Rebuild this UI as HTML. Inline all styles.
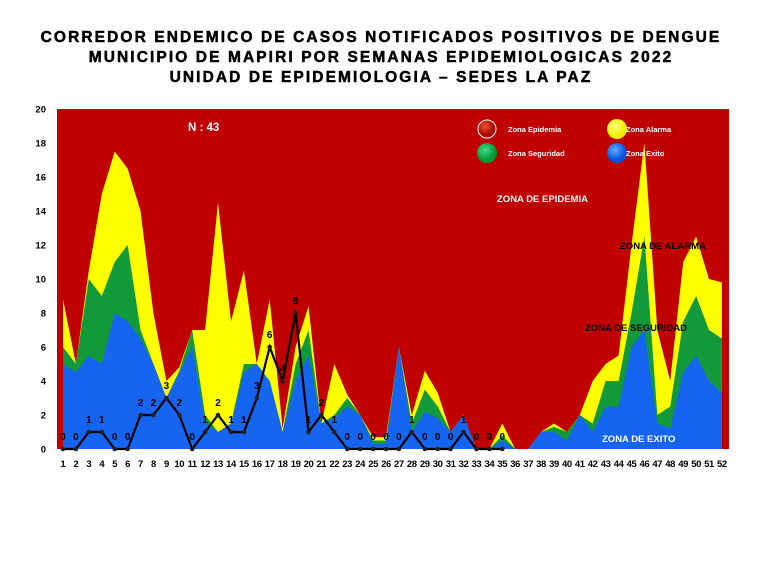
<!DOCTYPE html>
<html><head><meta charset="utf-8"><style>
body{margin:0;background:#fff;width:768px;height:576px;overflow:hidden}
svg{position:absolute;left:0;top:0}
text{font-family:"Liberation Sans",sans-serif;font-weight:bold}
</style></head><body>
<svg id="s" width="768" height="576" xmlns="http://www.w3.org/2000/svg">
<defs>
<radialGradient id="gr" cx="40%" cy="35%"><stop offset="0" stop-color="#e53"/><stop offset="1" stop-color="#a00"/></radialGradient>
<radialGradient id="gy" cx="40%" cy="35%"><stop offset="0" stop-color="#ffff80"/><stop offset="1" stop-color="#ee0"/></radialGradient>
<radialGradient id="gg" cx="40%" cy="35%"><stop offset="0" stop-color="#4d8"/><stop offset="1" stop-color="#093"/></radialGradient>
<radialGradient id="gb" cx="40%" cy="35%"><stop offset="0" stop-color="#6af"/><stop offset="1" stop-color="#05d"/></radialGradient>
</defs>
<g text-anchor="middle" font-size="15.5" letter-spacing="2.1" stroke="#000" stroke-width="0.5">
<text x="381" y="42">CORREDOR ENDEMICO DE CASOS NOTIFICADOS POSITIVOS DE DENGUE</text>
<text x="381" y="62">MUNICIPIO DE MAPIRI POR SEMANAS EPIDEMIOLOGICAS 2022</text>
<text x="381" y="82">UNIDAD DE EPIDEMIOLOGIA – SEDES LA PAZ</text>
</g>
<rect x="57" y="109" width="672" height="340" fill="#c00000"/>
<g id="areas"></g>
<g id="axes"></g>
<text x="188" y="131" fill="#fff" font-size="11.5">N : 43</text>
<circle cx="487" cy="129" r="9" fill="url(#gr)" stroke="#fff" stroke-width="1"/>
<circle cx="617" cy="129" r="10" fill="url(#gy)"/>
<circle cx="487" cy="153" r="10" fill="url(#gg)"/>
<circle cx="617" cy="153" r="10" fill="url(#gb)"/>
<g font-size="7.5" fill="#fff">
<text x="508" y="132">Zona Epidemia</text><text x="626" y="132">Zona Alarma</text>
<text x="508" y="156">Zona Seguridad</text><text x="626" y="156">Zona Exito</text>
</g>
<text x="497" y="202" fill="#fff" font-size="9.5">ZONA DE EPIDEMIA</text>
<text x="620" y="249" fill="#000" font-size="9.5">ZONA DE ALARMA</text>
<text x="585" y="331" fill="#000" font-size="9.5">ZONA DE  SEGURIDAD</text>
<text x="602" y="442" fill="#fff" font-size="9.5">ZONA DE  EXITO</text>
<g id="line"></g>
</svg>
<script>
var B=[5,4.5,5.5,5,8,7.5,6.5,5,3,4.5,6,1.5,1,1.5,4.5,5,4,1,4,5.5,1.5,1.8,2.5,2,.3,.3,6,1,2.2,1.8,1,2,0,0,.5,0,0,1,1,.5,2,1,2.5,2.5,6,7,1.5,1.2,4.5,5.5,4,3.3];
var G=[6,5,10,9,11,12,7,5,3,4.6,7,2,1,1.5,5,5,4,1,5,7,1.5,2,3,2,.5,.5,6,1.5,3.5,2.5,1,2,0,0,.8,0,0,1,1.3,1,2,1.5,4,4,8,12.5,2,2.5,7.5,9,7,6.5];
var Y=[8.8,5,10.5,15,17.5,16.5,14,8,4,4.8,7,7,14.5,7.5,10.5,5,8.8,1.2,6,8.4,1.5,5,3.2,2,.7,.7,6,2,4.6,3.3,1,2,0,0,1.5,0,0,1,1.5,1,2,4,5,5.5,12,18,7,4,11,12.5,10,9.8];
var C=[0,0,1,1,0,0,2,2,3,2,0,1,2,1,1,3,6,4,8,1,2,1,0,0,0,0,0,1,0,0,0,1,0,0,0];
function X(i){return 63+i*12.92}function Yv(v){return 449-v*17}
function area(a,c){var d="M"+X(0)+","+449;a.forEach(function(v,i){d+=" L"+X(i).toFixed(1)+","+Yv(v).toFixed(1)});d+=" L"+X(51)+",449 Z";return '<path d="'+d+'" fill="'+c+'"/>'}
document.getElementById("areas").innerHTML=area(Y,"#ffff00")+area(G,"#129a3a")+area(B,"#1565f0");
var ax='';for(var v=0;v<=20;v+=2)ax+='<text x="46" y="'+(Yv(v)+3.5)+'" text-anchor="end" font-size="9.5">'+v+'</text>';
for(var i=0;i<52;i++)ax+='<text x="'+X(i).toFixed(1)+'" y="467" text-anchor="middle" font-size="9.5" letter-spacing="-0.4">'+(i+1)+'</text>';
document.getElementById("axes").innerHTML=ax;
var l='',d='';C.forEach(function(v,i){d+=(i?' L':'M')+X(i).toFixed(1)+","+Yv(v);});
l+='<path d="'+d+'" fill="none" stroke="#000" stroke-width="2.2"/>';
C.forEach(function(v,i){l+='<circle cx="'+X(i).toFixed(1)+'" cy="'+Yv(v)+'" r="2.3" fill="#222"/>';l+='<text x="'+X(i).toFixed(1)+'" y="'+(Yv(v)-9)+'" text-anchor="middle" font-size="10">'+v+'</text>';});
document.getElementById("line").innerHTML=l;
</script>
</body></html>
